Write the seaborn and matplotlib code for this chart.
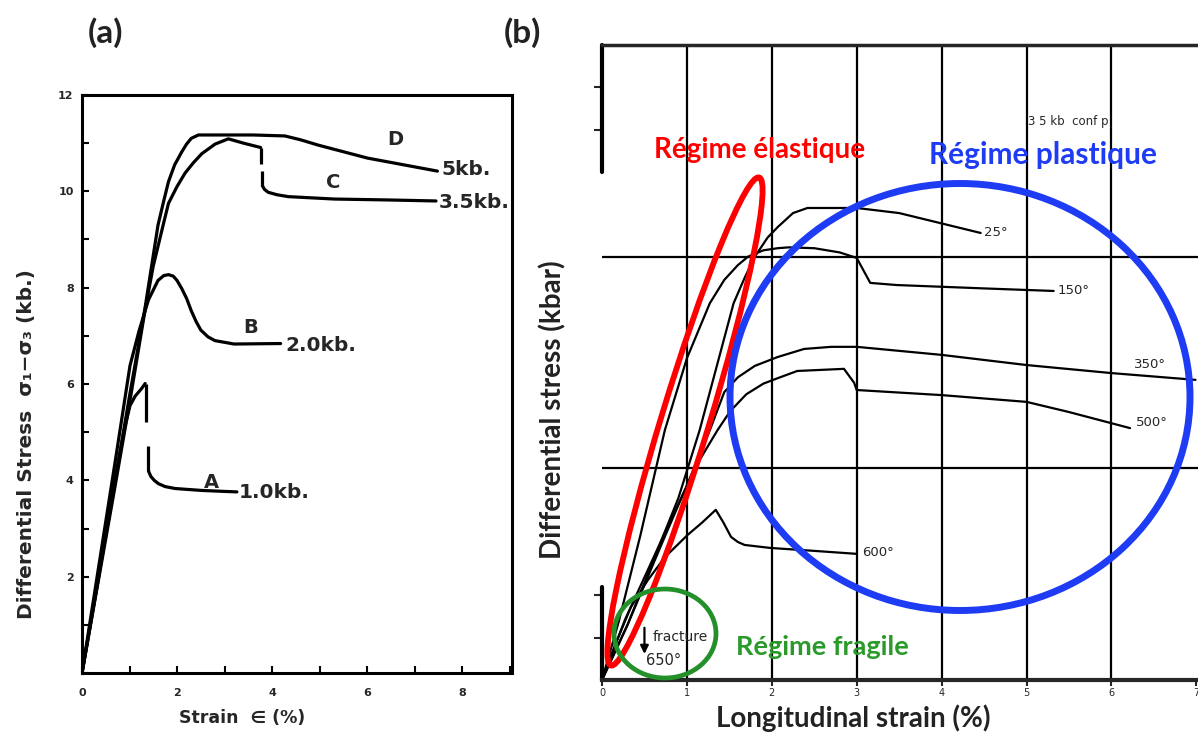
import matplotlib.pyplot as plt
import seaborn as sns
from matplotlib.patches import Ellipse

# ---- panel (a): differential stress vs strain, four confining pressures ----
a_x = [0, 0.35, 0.65, 0.9, 1.01, 1.12, 1.25, 1.33]
a_y = [0, 2.0, 3.8, 5.1, 5.55, 5.75, 5.9, 6.01]
a_tail_x = [1.40, 1.45, 1.52, 1.61, 1.75, 1.96, 2.52, 3.0, 3.26]
a_tail_y = [4.19, 4.08, 4.0, 3.93, 3.87, 3.83, 3.79, 3.77, 3.76]

b_x = [0, 0.35, 0.7, 1.01, 1.2, 1.4, 1.6, 1.72, 1.82, 1.92, 2.0, 2.1, 2.2, 2.3, 2.4, 2.5,
       2.65, 2.8, 3.2, 4.18]
b_y = [0, 2.2, 4.4, 6.38, 7.1, 7.75, 8.15, 8.25, 8.27, 8.24, 8.15, 7.98, 7.78, 7.52, 7.3, 7.12,
       6.98, 6.9, 6.83, 6.84]

c_x = [0, 0.35, 0.7, 1.0, 1.33, 1.5, 1.61, 1.72, 1.82, 2.0, 2.17, 2.35, 2.52, 2.8, 3.08, 3.4, 3.76]
c_y = [0, 1.95, 3.9, 5.6, 7.55, 8.45, 8.9, 9.35, 9.75, 10.1, 10.38, 10.6, 10.78, 10.98, 11.09,
       11.0, 10.91]
c_tail_x = [3.8, 3.84, 3.92, 4.1, 4.34, 5.31, 6.5, 7.45]
c_tail_y = [10.11, 10.04, 9.98, 9.93, 9.89, 9.84, 9.82, 9.8]

d_x = [0, 0.35, 0.7, 1.0, 1.33, 1.6, 1.72, 1.82, 1.95, 2.1, 2.2, 2.3, 2.45, 3.0, 3.6, 4.27, 4.6,
       4.97, 6.01, 7.48]
d_y = [0, 2.0, 4.0, 5.75, 7.6, 9.3, 9.8, 10.2, 10.55, 10.82, 10.98, 11.1, 11.17, 11.17, 11.17,
       11.15, 11.07, 10.96, 10.69, 10.42]

# stress drops (drawn with a small break, as in the original)
a_drop = [(1.35, 6.0, 5.22), (1.39, 4.72, 4.19)]
c_drop = [(3.77, 10.91, 10.56), (3.79, 10.42, 10.11)]

curve_tags = ['A', 'B', 'C', 'D']
curve_press = ['1.0kb.', '2.0kb.', '3.5kb.', '5kb.']

# ---- panel (b): differential stress vs longitudinal strain, temperatures ----
t25_x = [0, 0.3, 0.6, 0.9, 1.15, 1.35, 1.55, 1.68, 1.8, 1.95, 2.07, 2.25, 2.42, 3.0, 3.5, 4.46]
t25_y = [0, 1.3, 2.8, 4.3, 5.9, 7.4, 8.9, 9.5, 10.0, 10.45, 10.7, 11.03, 11.15, 11.15, 11.03,
         10.56]

t150_x = [0, 0.2, 0.45, 0.74, 1.0, 1.27, 1.44, 1.6, 1.72, 1.9, 2.07, 2.2, 2.5, 2.8, 3.0, 3.16,
          3.47, 4.5, 5.32]
t150_y = [0, 1.4, 3.4, 5.9, 7.6, 8.9, 9.45, 9.8, 10.0, 10.15, 10.2, 10.22, 10.2, 10.1, 9.97,
          9.38, 9.33, 9.25, 9.19]

t350_x = [0, 0.3, 0.7, 1.0, 1.27, 1.44, 1.6, 1.8, 2.07, 2.38, 2.7, 3.0, 4.0, 5.0, 6.0, 6.99]
t350_y = [0, 1.3, 3.2, 4.6, 5.9, 6.8, 7.15, 7.42, 7.63, 7.82, 7.87, 7.87, 7.68, 7.44, 7.25, 7.09]

t500_x = [0, 0.27, 0.54, 0.81, 1.13, 1.36, 1.51, 1.7, 1.9, 2.07, 2.3, 2.85, 2.97, 3.0, 4.0,
          5.0, 5.5, 6.22]
t500_y = [0, 1.42, 2.6, 3.78, 5.13, 5.9, 6.35, 6.75, 7.0, 7.13, 7.3, 7.35, 7.02, 6.85, 6.73,
          6.57, 6.33, 5.95]

t600_x = [0, 0.1, 0.19, 0.34, 0.54, 0.74, 1.01, 1.18, 1.34, 1.43, 1.52, 1.6, 1.68, 1.98, 2.5, 3.0]
t600_y = [0, 0.55, 1.0, 1.72, 2.36, 2.9, 3.43, 3.72, 4.02, 3.72, 3.38, 3.26, 3.19, 3.12, 3.05,
          2.98]

temp_labels = ['25°', '150°', '350°', '500°', '600°']

W, H = 1198, 735
sns.set_theme(style='ticks')
plt.rcParams['font.family'] = ['DejaVu Sans']

fig = plt.figure(figsize=(W / 100, H / 100), dpi=100)


def fx(x):
    return x / W


def fy(y):
    return 1 - y / H


# ================= panel (a) =================
ax1 = fig.add_axes([fx(82), fy(673), 430 / W, 578 / H])
for xs, ys in [(a_x, a_y), (a_tail_x, a_tail_y), (b_x, b_y), (c_x, c_y),
               (c_tail_x, c_tail_y), (d_x, d_y)]:
    sns.lineplot(x=xs, y=ys, sort=False, estimator=None, color='black', lw=2.3, ax=ax1)
for x0, y0, y1 in a_drop + c_drop:
    ax1.plot([x0, x0], [y0, y1], color='black', lw=2.3, solid_capstyle='butt')

ax1.set_xlim(0, 9.05)
ax1.set_ylim(0, 12)
ax1.set_xticks(range(10))
ax1.set_xticklabels([str(v) if v % 2 == 0 else '' for v in range(10)])
ax1.set_yticks(range(13))
ax1.set_yticklabels([str(v) if v % 2 == 0 and v > 0 else '' for v in range(13)])
ax1.tick_params(direction='in', length=5, width=1.5, labelsize=8, color='black')
ax1.tick_params(axis='x', pad=11)
ax1.tick_params(axis='y', pad=6)
for lbl in ax1.get_xticklabels() + ax1.get_yticklabels():
    lbl.set_fontweight('bold')
for sp in ax1.spines.values():
    sp.set_linewidth(2.2)
    sp.set_color('black')

tag_pos = [(2.72, 3.96), (3.54, 7.18), (5.28, 10.18), (6.59, 11.07)]
press_pos = [(3.3, 3.74), (4.28, 6.8), (7.5, 9.76), (7.56, 10.45)]
for tag, (tx, ty) in zip(curve_tags, tag_pos):
    ax1.text(tx, ty, tag, fontsize=14, fontweight='bold', ha='center', va='center')
for lab, (tx, ty) in zip(curve_press, press_pos):
    ax1.text(tx, ty, lab, fontsize=14.5, fontweight='bold', ha='left', va='center')

fig.text(fx(27), fy(444), 'Differential Stress  σ₁−σ₃ (kb.)', rotation=90,
         fontsize=14.5, fontweight='bold', ha='center', va='center')
fig.text(fx(242), fy(718), 'Strain  ∈ (%)', fontsize=12.5, fontweight='bold',
         ha='center', va='center')

# ================= panel (b) =================
ax2 = fig.add_axes([fx(602), fy(680), 596 / W, 635 / H])
for xs, ys in [(t25_x, t25_y), (t150_x, t150_y), (t350_x, t350_y),
               (t500_x, t500_y), (t600_x, t600_y)]:
    sns.lineplot(x=xs, y=ys, sort=False, estimator=None, color='black', lw=1.6, ax=ax2)

ax2.set_xlim(0, 7.02)
ax2.set_ylim(0, 15)
for gx in range(1, 7):
    ax2.axvline(gx, color='black', lw=1.6, zorder=0)
for gy in (5, 10):
    ax2.axhline(gy, color='black', lw=1.6, zorder=0)

ax2.spines['left'].set_visible(False)
ax2.spines['right'].set_visible(False)
ax2.spines['top'].set_linewidth(2.5)
ax2.spines['bottom'].set_linewidth(3)
ax2.axvline(0, ymin=0, ymax=2.2 / 15, color='black', lw=3, clip_on=False)
ax2.axvline(0, ymin=12 / 15, ymax=1, color='black', lw=3, clip_on=False)

ax2.set_xticks(range(8))
ax2.set_xticklabels([str(v) for v in range(8)])
ax2.tick_params(axis='x', direction='out', length=4, width=1.5, labelsize=7, pad=2)
ax2.set_yticks([1, 2, 13, 14])
ax2.set_yticklabels([])
ax2.tick_params(axis='y', direction='out', length=6, width=1.5)

end_labels = [(4.5, 10.56), (5.37, 9.2), (6.27, 7.45), (6.29, 6.08), (3.06, 3.0)]
for lab, (tx, ty) in zip(temp_labels, end_labels):
    ax2.text(tx, ty, lab, fontsize=9.5, ha='left', va='center')

ax2.text(5.02, 13.2, '3 5 kb  conf p', fontsize=8.5, ha='left', va='center')
ax2.annotate('', xy=(0.5, 0.55), xytext=(0.5, 1.3),
             arrowprops=dict(arrowstyle='-|>', color='black', lw=1.6))
ax2.text(0.6, 1.02, 'fracture', fontsize=10, ha='left', va='center')
ax2.text(0.52, 0.45, '650°', fontsize=10.5, ha='left', va='center')

# regime outlines (figure inches, so shapes are not skewed by axis scales)
inch = fig.dpi_scale_trans
fig.add_artist(Ellipse((685 / 100, (H - 421.5) / 100), 5.10, 0.48, angle=73.1,
                       fill=False, ec='#ff0000', lw=4.2, transform=inch))
fig.add_artist(Ellipse((960 / 100, (H - 397) / 100), 4.60, 4.27,
                       fill=False, ec='#1f3cf5', lw=5, transform=inch))
fig.add_artist(Ellipse((665 / 100, (H - 633.5) / 100), 1.02, 0.89,
                       fill=False, ec='#23902a', lw=3.4, transform=inch))

lato = ['Lato', 'DejaVu Sans']
fig.text(fx(760), fy(150), 'Régime élastique', color='#ff0000', fontsize=20,
         fontweight='bold', family=lato, ha='center', va='center')
fig.text(fx(1043), fy(155), 'Régime plastique', color='#1f3cf5', fontsize=21.5,
         fontweight='bold', family=lato, ha='center', va='center')
fig.text(fx(822), fy(647), 'Régime fragile', color='#2a9a2a', fontsize=19.5,
         fontweight='bold', family=lato, ha='center', va='center')

fig.text(fx(553), fy(410), 'Differential stress (kbar)', rotation=90, color='#222222',
         fontsize=20, fontweight='bold', family=lato, ha='center', va='center')
fig.text(fx(853), fy(718), 'Longitudinal strain (%)', color='#222222',
         fontsize=20, fontweight='bold', family=lato, ha='center', va='center')

fig.text(fx(106), fy(33), '(a)', fontsize=24, fontweight='bold', family=lato,
         color='#222222', ha='center', va='center')
fig.text(fx(522), fy(33), '(b)', fontsize=24, fontweight='bold', family=lato,
         color='#222222', ha='center', va='center')

fig.savefig('out.png', dpi=100)
